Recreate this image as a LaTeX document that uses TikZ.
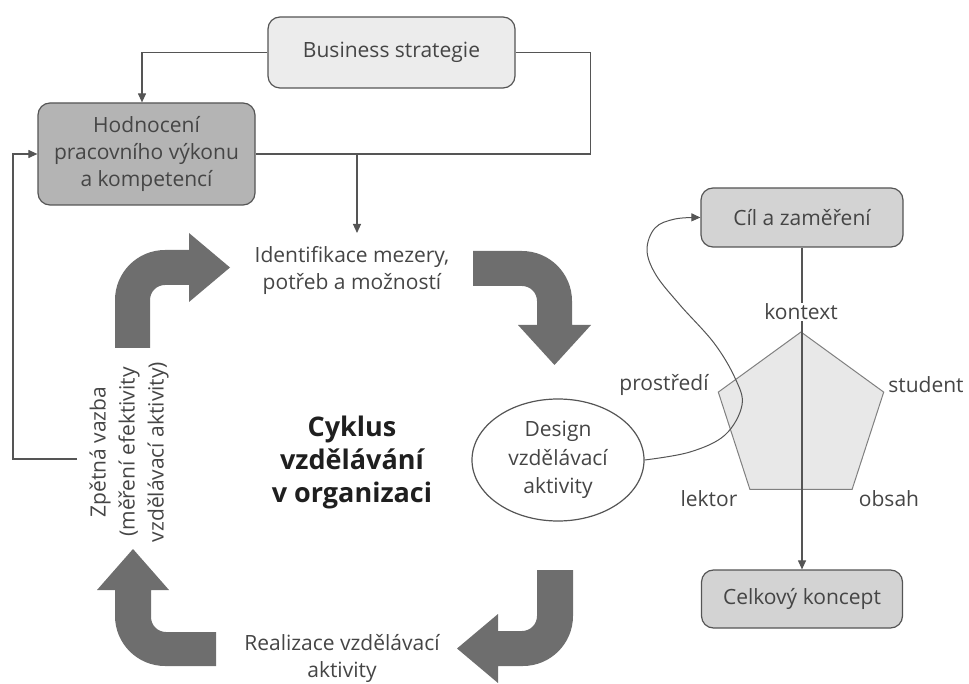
\documentclass[tikz,border=0pt]{standalone}
\usepackage{fontspec}
\setmainfont{Open Sans}
\usetikzlibrary{arrows.meta,shapes.geometric,calc}
\definecolor{arr}{HTML}{6E6E6E}
\definecolor{txtc}{HTML}{454545}
\definecolor{linec}{HTML}{555555}
\definecolor{hodfill}{HTML}{B4B4B4}
\definecolor{bsfill}{HTML}{ECECEC}
\definecolor{cilfill}{HTML}{D3D3D3}
\definecolor{pentfill}{HTML}{E8E8E8}
\begin{document}
\begin{tikzpicture}[x=1pt,y=-1pt,
  txt/.style={font=\fontsize{21}{27}\selectfont, text=txtc, align=center, inner sep=2pt},
  box/.style={draw=linec, line width=1.2pt, rounded corners=12pt, align=center,
    font=\fontsize{21}{27}\selectfont, text=txtc, inner sep=0pt},
  conn/.style={draw=linec, line width=1.1pt},
  tipped/.style={-{Triangle[length=9pt,width=8pt]}},
  blockarrow/.style={fill=arr}
]
\useasboundingbox (0,0) rectangle (969,684);

% boxes
\node[box, fill=bsfill, minimum width=247pt, minimum height=71pt] (bs) at (391.5,52.5) {Business strategie};
\node[box, fill=hodfill, minimum width=217pt, minimum height=102pt] (hod) at (146.5,154) {Hodnocení\\pracovního výkonu\\a kompetencí};
\node[box, fill=cilfill, minimum width=202pt, minimum height=59pt] (cil) at (802,217.5) {Cíl a zaměření};
\node[box, fill=cilfill, minimum width=201pt, minimum height=58pt] (cel) at (802,599) {Celkový koncept};

% texts of the cycle
\node[txt] (ident) at (352,270) {Identifikace mezery,\\potřeb a možností};
\node[txt] (real) at (342,658) {Realizace vzdělávací\\aktivity};
\node[txt, font=\fontsize{21}{29}\selectfont, rotate=90] (zp) at (129,452) {Zpětná vazba\\(měření efektivity\\vzdělávací aktivity)};
\node[font=\bfseries\fontsize{27}{33}\selectfont, text=black!88, align=center] (cyk) at (352,462) {Cyklus\\vzdělávání\\v organizaci};
\node[draw=linec, line width=1.2pt, ellipse, minimum width=172pt, minimum height=122pt, inner sep=0pt,
  font=\fontsize{21}{28.5}\selectfont, text=txtc, align=center] (des) at (558,460) {Design\\vzdělávací\\aktivity};

% connectors at top
\coordinate (j) at (357,154);
\coordinate (idtop) at (357,233);
\coordinate (fbend) at (77,459);
\draw[conn, tipped] (bs.west) -| ([xshift=-4.5pt]hod.north);
\draw[conn] (bs.east) -- ++(75,0) |- (hod.east);
\draw[conn, tipped] (j) -- (idtop);
\draw[conn, tipped] (fbend) -- ++(-64,0) |- (hod.west);

% block arrows
\fill[blockarrow] (115,348) -- (115,300) .. controls (115,272.4) and (137.4,250) .. (165,250) -- (189,250) -- (189,233) -- (230,267.5) -- (189,302) -- (189,285) -- (165,285) .. controls (156.7,285) and (150,291.7) .. (150,300) -- (150,348) -- cycle;
\fill[blockarrow] (473,251) -- (522,251) .. controls (549.6,251) and (572,273.4) .. (572,301) -- (572,325) -- (591,325) -- (554.5,365) -- (518,325) -- (537,325) -- (537,301) .. controls (537,292.7) and (530.3,286) .. (522,286) -- (473,286) -- cycle;
\fill[blockarrow] (537,570) -- (573,570) -- (573,616) .. controls (573,643.6) and (550.6,666) .. (523,666) -- (498,666) -- (498,683) -- (457,648.5) -- (498,614) -- (498,631) -- (522,631) .. controls (530.3,631) and (537,624.3) .. (537,616) -- cycle;
\fill[blockarrow] (216,632) -- (216,666) -- (165,666) .. controls (137.4,666) and (115,643.6) .. (115,616) -- (115,590) -- (97,590) -- (133,549) -- (169,590) -- (151,590) -- (151,617) .. controls (151,625.3) and (157.7,632) .. (166,632) -- cycle;

% pentagon
\filldraw[fill=pentfill, draw=black!50, line width=1pt] (801,332) -- (883.7,392.1) -- (852.1,489.4) -- (749.9,489.4) -- (718.3,392.1) -- cycle;
\draw[conn, tipped] (cil.south) -- (cil.south |- cel.north);
\node[txt, fill=white, inner sep=1pt] (kon) at (801,312) {kontext};
\node[txt] (pro) at (664,385) {prostředí};
\node[txt] (stu) at (926,385) {student};
\node[txt] (lek) at (709,499) {lektor};
\node[txt] (obs) at (889,499) {obsah};

% curved connector
\draw[conn, line width=1pt, tipped] plot[smooth, tension=0.6] coordinates {(des.east) (690,452) (725,435) (742,405) (735,378) (714,343) (680,305) (656,275) (647,250) (655,228) (675,219) (cil.west)};
\end{tikzpicture}
\end{document}
